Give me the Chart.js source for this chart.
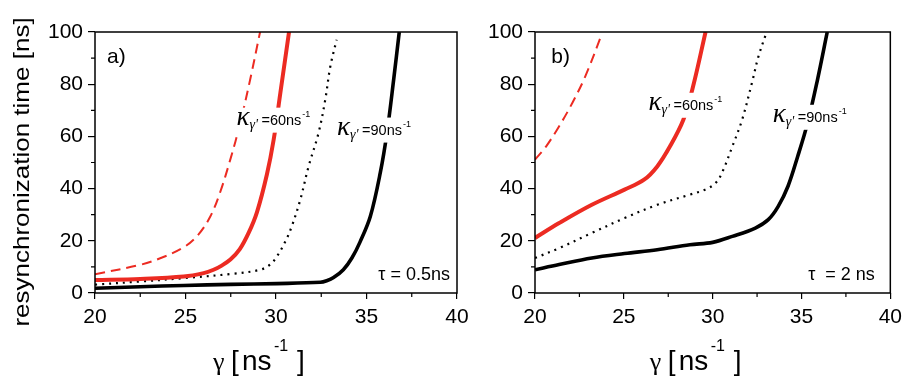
<!DOCTYPE html>
<html>
<head>
<meta charset="utf-8">
<title>Resynchronization time</title>
<script src="https://cdn.jsdelivr.net/npm/chart.js@4.4.1/dist/chart.umd.min.js"></script>
<style>
  body { margin: 0; background: #fff; }
  #figure { position: relative; width: 908px; height: 378px; overflow: hidden; background: #fff; }
  #figure canvas { position: absolute; top: 0; }
</style>
</head>
<body>
<div id="figure">
  <canvas id="panelA" width="480" height="378" style="left:0"></canvas>
  <canvas id="panelB" width="448" height="378" style="left:460px"></canvas>
</div>
<script>
// Panel a: tau = 0.5 ns
const gammaA_redDash = [20, 22.5, 23.6, 24.9, 25.7, 26.37, 26.9, 27.47, 28.02, 28.57, 29.12];
const timeA_redDash  = [7.2, 10.8, 13.3, 17.5, 22.3, 29.3, 38.3, 51, 65, 81.7, 100];
const gammaA_red     = [20, 22.5, 24.9, 26, 26.55, 27.0, 27.48, 28.0, 28.5, 28.95, 29.5, 29.87, 30.24, 30.72];
const timeA_red      = [5.0, 5.4, 6.3, 7.6, 8.9, 10.5, 12.8, 16.8, 23.2, 31, 45.5, 58.7, 76.6, 100];
const gammaA_dot     = [20, 22.5, 24.9, 27.66, 29.12, 29.7, 30.05, 30.5, 30.87, 31.34, 31.8, 32.35, 32.72, 33.0, 33.35];
const timeA_dot      = [3.2, 4.4, 5.7, 7.4, 8.9, 11, 14, 19.5, 25.5, 35.7, 48.5, 61.3, 74, 86.8, 97];
const gammaA_black   = [20, 22.5, 24.9, 27.5, 30.05, 32.45, 32.8, 33.18, 33.72, 34.2, 34.64, 35.21, 35.76, 36.13, 36.5, 36.81];
const timeA_black    = [1.8, 2.4, 2.9, 3.3, 3.6, 4.1, 4.7, 5.9, 8.9, 13.5, 19.5, 29.3, 46, 61.3, 81.7, 100];

// Panel b: tau = 2 ns
const gammaB_redDash = [20, 20.63, 21.36, 22.1, 22.83, 23.78];
const timeB_redDash  = [51.1, 56.2, 63.9, 72.8, 83, 99.5];
const gammaB_red     = [20, 21.36, 23.2, 25.04, 26.14, 26.88, 27.6, 28.35, 28.9, 29.6];
const timeB_red      = [21.1, 26.8, 33.8, 39.6, 43.4, 48.5, 56.2, 66.4, 79.2, 100];
const gammaB_dot     = [20, 21.36, 23.2, 25.04, 26.88, 28.72, 29.64, 30.19, 30.56, 31.11, 31.66, 32.21, 32.58, 33.04];
const timeB_dot      = [13.4, 17.2, 23, 28.7, 33.8, 37.7, 39.8, 42.3, 46.6, 56.2, 66.4, 80.5, 90.7, 100];
const gammaB_black   = [20, 21.36, 23.2, 25.04, 26.88, 28.72, 30.0, 31.11, 32.4, 33.13, 33.69, 34.24, 34.79, 35.34, 35.9, 36.45];
const timeB_black    = [8.9, 10.9, 13.4, 15.1, 16.6, 18.5, 19.4, 21.7, 24.9, 28.1, 33.2, 40.9, 52.4, 65.1, 81.7, 100];

// axis ticks
const gammaTicks = [20, 25, 30, 35, 40];
const gammaMinor = [22.5, 27.5, 32.5, 37.5];
const timeTicks  = [0, 20, 40, 60, 80, 100];
const timeMinor  = [10, 30, 50, 70, 90];

const RED = '#ec2b22';
const INK = '#000';
const SANS = '"Liberation Sans", Arial, sans-serif';
const NARROW = '"Liberation Sans Narrow", "Liberation Sans", Arial, sans-serif';
const SERIF = '"Liberation Serif", "Times New Roman", serif';

Chart.defaults.color = INK;
Chart.defaults.font.family = SANS;

function toPoints(gamma, time) {
    return gamma.map((g, i) => ({ x: g, y: time[i] }));
}

function curves(redDash, red, dot, black) {
    return [
        { data: redDash, borderColor: RED, borderWidth: 2, borderDash: [10, 6] },
        { data: red, borderColor: RED, borderWidth: 4 },
        { data: dot, borderColor: INK, borderWidth: 2.2, borderDash: [2, 5] },
        { data: black, borderColor: INK, borderWidth: 3.6 }
    ].map(d => Object.assign({ pointRadius: 0, tension: 0.35, fill: false }, d));
}

// kappa label on a white box, the curves behind it are hidden
function drawKappa(ctx, x, y, value) {
    const main = '=' + value + 'ns';
    ctx.font = '14.5px ' + SANS;
    const w = ctx.measureText(main).width;
    ctx.fillStyle = '#fff';
    ctx.fillRect(x - 2, y - 17, 24 + w + 12, 25);
    ctx.fillStyle = INK;
    ctx.textAlign = 'left';
    ctx.textBaseline = 'alphabetic';
    ctx.font = 'italic 27px ' + SERIF;
    ctx.fillText('κ', x - 1, y);
    ctx.font = 'italic 14px ' + SERIF;
    ctx.fillText('γ\'', x + 12, y + 4);
    ctx.font = '14.5px ' + SANS;
    ctx.fillText(main, x + 24, y);
    ctx.font = '9px ' + SANS;
    ctx.fillText('-1', x + 24 + w + 1, y - 8);
}

function drawGammaTitle(ctx, area) {
    const cx = (area.left + area.right) / 2;
    const base = 370;
    ctx.fillStyle = INK;
    ctx.textAlign = 'left';
    ctx.textBaseline = 'alphabetic';
    ctx.font = '26px ' + SERIF;
    ctx.fillText('γ', cx - 63, base);
    ctx.font = '28px ' + SANS;
    ctx.fillText('[', cx - 45, base);
    ctx.fillText('ns', cx - 34, base);
    ctx.fillText(']', cx + 21, base);
    ctx.font = '16px ' + SANS;
    ctx.fillText('-1', cx - 2, base - 19);
}

const decor = {
    id: 'decor',
    afterDatasetsDraw(chart, args, opts) {
        const ctx = chart.ctx;
        const a = chart.chartArea;
        const xs = chart.scales.x;
        const ys = chart.scales.y;
        ctx.save();

        // labels inside the frame
        opts.kappa.forEach(k => drawKappa(ctx, xs.getPixelForValue(k[1]), ys.getPixelForValue(k[2]), k[0]));
        ctx.fillStyle = INK;
        ctx.textBaseline = 'alphabetic';
        ctx.font = '21px ' + SANS;
        ctx.textAlign = 'left';
        ctx.fillText(opts.letter, xs.getPixelForValue(opts.letterAt[0]), ys.getPixelForValue(opts.letterAt[1]));
        ctx.font = '18px ' + SANS;
        ctx.textAlign = 'right';
        ctx.fillText(opts.tau, xs.getPixelForValue(opts.tauAt[0]), ys.getPixelForValue(opts.tauAt[1]));

        // frame and minor ticks
        ctx.strokeStyle = INK;
        ctx.lineWidth = 1.5;
        ctx.strokeRect(a.left, a.top, a.right - a.left, a.bottom - a.top);
        ctx.lineWidth = 1.2;
        ctx.beginPath();
        gammaMinor.forEach(v => {
            const px = xs.getPixelForValue(v);
            ctx.moveTo(px, a.bottom);
            ctx.lineTo(px, a.bottom + 4);
        });
        timeMinor.forEach(v => {
            const py = ys.getPixelForValue(v);
            ctx.moveTo(a.left, py);
            ctx.lineTo(a.left - 4, py);
        });
        ctx.stroke();

        drawGammaTitle(ctx, a);

        if (opts.yTitle) {
            ctx.translate(23, 172);
            ctx.scale(0.82, 1);
            ctx.rotate(-Math.PI / 2);
            ctx.textAlign = 'center';
            ctx.textBaseline = 'middle';
            ctx.font = '26px ' + SANS;
            ctx.fillText(opts.yTitle, 0, 0);
        }
        ctx.restore();
    }
};

function makePanel(id, datasets, axisWidth, padRight, notes) {
    return new Chart(document.getElementById(id), {
        type: 'line',
        data: { datasets: datasets },
        plugins: [decor],
        options: {
            responsive: false,
            animation: false,
            layout: { padding: { top: 32, right: padRight, left: 0, bottom: 0 }, autoPadding: false },
            plugins: { legend: { display: false }, tooltip: { enabled: false }, decor: notes },
            scales: {
                x: {
                    type: 'linear', min: 20, max: 40,
                    afterFit: s => { s.height = 85; },
                    afterBuildTicks: s => { s.ticks = gammaTicks.map(v => ({ value: v })); },
                    border: { display: false },
                    grid: { drawOnChartArea: false, color: INK, tickLength: 6, lineWidth: 1.2 },
                    ticks: { font: { family: NARROW, size: 21 }, padding: 6, maxRotation: 0, color: INK }
                },
                y: {
                    min: 0, max: 100,
                    afterFit: s => { s.width = axisWidth; },
                    afterBuildTicks: s => { s.ticks = timeTicks.map(v => ({ value: v })); },
                    border: { display: false },
                    grid: { drawOnChartArea: false, color: INK, tickLength: 7, lineWidth: 1.2 },
                    ticks: { font: { family: NARROW, size: 21 }, padding: 5, color: INK }
                }
            }
        }
    });
}

makePanel('panelA', curves(
    toPoints(gammaA_redDash, timeA_redDash), toPoints(gammaA_red, timeA_red),
    toPoints(gammaA_dot, timeA_dot), toPoints(gammaA_black, timeA_black)
), 95, 23, {
    letter: 'a)', letterAt: [20.66, 88.1],
    kappa: [[60, 27.87, 64.5], [90, 33.43, 60.7]],
    tau: 'τ = 0.5ns', tauAt: [39.61, 5.1],
    yTitle: 'resynchronization time [ns]'
});

makePanel('panelB', curves(
    toPoints(gammaB_redDash, timeB_redDash), toPoints(gammaB_red, timeB_red),
    toPoints(gammaB_dot, timeB_dot), toPoints(gammaB_black, timeB_black)
), 75, 10, {
    letter: 'b)', letterAt: [20.92, 88.2],
    kappa: [[60, 26.44, 70.2], [90, 33.44, 65.6]],
    tau: 'τ  = 2 ns', tauAt: [39.13, 5.1]
});
</script>
</body>
</html>
